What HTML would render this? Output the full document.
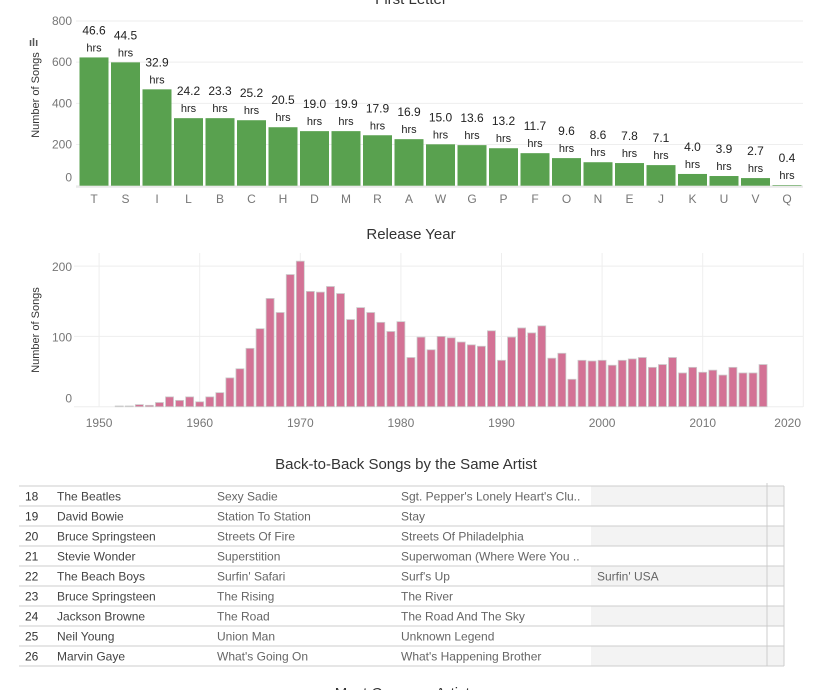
<!DOCTYPE html>
<html><head><meta charset="utf-8"><style>
body{margin:0;background:#fff;width:834px;height:690px;overflow:hidden;font-family:"Liberation Sans",sans-serif}
svg{position:absolute;left:0;top:0}
</style></head><body>
<svg id="c" width="834" height="690" viewBox="0 0 834 690">
<text x="411" y="4" text-anchor="middle" font-size="15" fill="#333">First Letter</text>
<text x="411" y="239" text-anchor="middle" font-size="15" fill="#333">Release Year</text>
<text x="406" y="469" text-anchor="middle" font-size="15" fill="#333">Back-to-Back Songs by the Same Artist</text>
<text x="406" y="698" text-anchor="middle" font-size="15" fill="#333">Most Common Artists</text>
<g id="topChart"></g><g id="histChart"></g><g id="tblGroup"></g>
</svg>
<script>
const letters=["T","S","I","L","B","C","H","D","M","R","A","W","G","P","F","O","N","E","J","K","U","V","Q"];
const songCounts=[623,599,468,328,328,318,284,265,265,245,226,201,197,182,158,134,114,110,100,57,47,37,3];
const hours=["46.6","44.5","32.9","24.2","23.3","25.2","20.5","19.0","19.9","17.9","16.9","15.0","13.6","13.2","11.7","9.6","8.6","7.8","7.1","4.0","3.9","2.7","0.4"];
const topTicks=[0,200,400,600,800];
const years=[1952,1953,1954,1955,1956,1957,1958,1959,1960,1961,1962,1963,1964,1965,1966,1967,1968,1969,1970,1971,1972,1973,1974,1975,1976,1977,1978,1979,1980,1981,1982,1983,1984,1985,1986,1987,1988,1989,1990,1991,1992,1993,1994,1995,1996,1997,1998,1999,2000,2001,2002,2003,2004,2005,2006,2007,2008,2009,2010,2011,2012,2013,2014,2015,2016];
const yearCounts=[1,1,3,2,6,14,9,14,7,14,20,41,54,83,111,154,134,188,207,164,163,171,161,124,141,134,120,107,121,70,99,81,100,98,92,88,86,108,66,99,112,105,115,69,76,39,66,65,66,59,66,68,70,56,60,70,48,56,49,52,45,56,48,48,60];
const histYTicks=[0,100,200];
const histXTicks=[1950,1960,1970,1980,1990,2000,2010,2020];
const rowNums=["18","19","20","21","22","23","24","25","26"];
const artists=["The Beatles","David Bowie","Bruce Springsteen","Stevie Wonder","The Beach Boys","Bruce Springsteen","Jackson Browne","Neil Young","Marvin Gaye"];
const song1=["Sexy Sadie","Station To Station","Streets Of Fire","Superstition","Surfin' Safari","The Rising","The Road","Union Man","What's Going On"];
const song2=["Sgt. Pepper's Lonely Heart's Clu..","Stay","Streets Of Philadelphia","Superwoman (Where Were You ..","Surf's Up","The River","The Road And The Sky","Unknown Legend","What's Happening Brother"];
const song3=["","","","","Surfin' USA","","","",""];

const NS="http://www.w3.org/2000/svg";
function mk(p,t,a,txt){const e=document.createElementNS(NS,t);for(const k in a)e.setAttribute(k,a[k]);if(txt!==undefined)e.textContent=txt;p.appendChild(e);return e;}

// top chart
const topG=document.getElementById('topChart');
const tY=v=>185.7-v*0.2059;
const tX=i=>94+i*31.5;
topTicks.forEach(t=>{
 const g=mk(topG,'line',{x1:76,x2:803,y1:tY(t),y2:tY(t),stroke:'#eee'});
 
 
 const l=mk(topG,'text',{x:72,y:t===0?tY(t)-4:tY(t)+4,'text-anchor':'end','font-size':12,fill:'#777'},t);
 
 
});
const tyt=mk(topG,'text',{transform:'translate(39,95) rotate(-90)','text-anchor':'middle','font-size':11,fill:'#333'},'Number of Songs');


const ic=mk(topG,'text',{x:29,y:46,'font-size':11,fill:'#555','font-weight':'bold'},'ılı');


mk(topG,'line',{x1:76,x2:803,y1:187,y2:187,stroke:'#ddd'});
letters.forEach((L,i)=>{
 const x=tX(i),v=songCounts[i];
 const b=mk(topG,'rect',{x:x-14.5,y:tY(v),width:29,height:185.7-tY(v),fill:'#59a14f'});
 
 
 const a=mk(topG,'text',{x:x,y:tY(v)-23,'text-anchor':'middle','font-size':12,fill:'#222'},hours[i]);
 
 
 const h=mk(topG,'text',{x:x,y:tY(v)-6,'text-anchor':'middle','font-size':11,fill:'#222'},'hrs');
 
 
 const c=mk(topG,'text',{x:x,y:203,'text-anchor':'middle','font-size':12,fill:'#777'},L);
 
 
});

// histogram
const histG=document.getElementById('histChart');
const hY=v=>406.7-v*0.703;
const hX=y=>300.3+(y-1970)*10.06;
histYTicks.forEach(t=>{
 const g=mk(histG,'line',{x1:74,x2:803,y1:hY(t),y2:hY(t),stroke:'#eee'});
 
 
 const l=mk(histG,'text',{x:72,y:t===0?hY(t)-4:hY(t)+5,'text-anchor':'end','font-size':12,fill:'#777'},t);
 
 
});
histXTicks.forEach((t,i)=>{
 const g=mk(histG,'line',{x1:hX(t),x2:hX(t),y1:253,y2:407,stroke:'#eee'});
 
 
 const last=i===histXTicks.length-1;
 const l=mk(histG,'text',{x:last?801:hX(t),y:427,'text-anchor':last?'end':'middle','font-size':12,fill:'#777'},t);
 
 
});
const hyt=mk(histG,'text',{transform:'translate(39,330) rotate(-90)','text-anchor':'middle','font-size':11,fill:'#333'},'Number of Songs');


years.forEach((yr,i)=>{
 const v=yearCounts[i];
 const b=mk(histG,'rect',{x:hX(yr)-4,y:hY(v),width:8,height:406.7-hY(v),fill:'#d37295',stroke:'#ccc','stroke-width':0.8});
 
 
});

// table
const tblG=document.getElementById('tblGroup');
rowNums.forEach((n,i)=>{
 const y=486+i*20;
 if(i%2===0){mk(tblG,'rect',{x:591,y:y,width:193,height:20,fill:'#f3f3f3'});}
 const r=mk(tblG,'line',{x1:19,x2:784,y1:y,y2:y,stroke:'#ccc'});
 
 
 const cells=[[25,n,'#333'],[57,artists[i],'#444'],[217,song1[i],'#666'],[401,song2[i],'#666'],[597,song3[i],'#666']];
 cells.forEach(c=>{
  const t=mk(tblG,'text',{x:c[0],y:y+14.5,'font-size':12,fill:c[2]},c[1]);
  
  
 });
});
mk(tblG,'line',{x1:19,x2:784,y1:666,y2:666,stroke:'#ccc'});
mk(tblG,'line',{x1:767,x2:767,y1:483,y2:666,stroke:'#ccc'});
mk(tblG,'line',{x1:784,x2:784,y1:486,y2:666,stroke:'#ccc'});
</script>
</body></html>
